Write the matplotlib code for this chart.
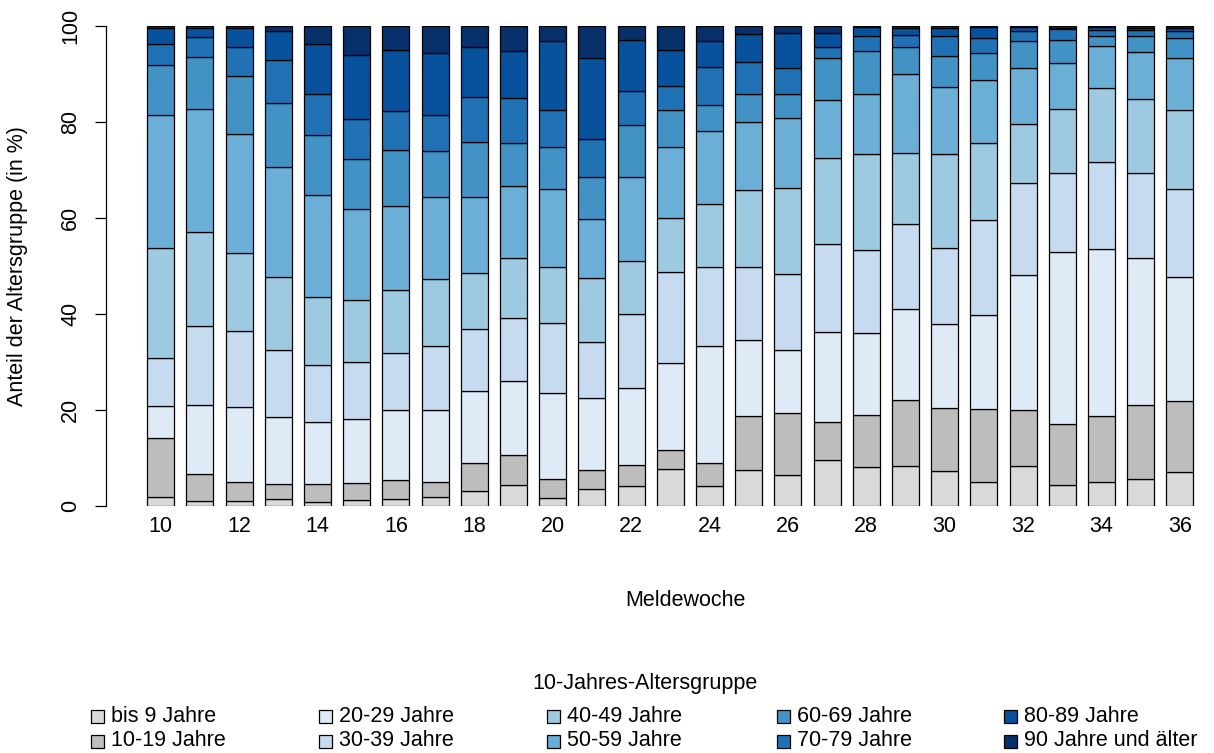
import numpy as np
import matplotlib
matplotlib.use('Agg')
import matplotlib.pyplot as plt
from matplotlib.patches import Rectangle

plt.rcParams['font.family'] = ['Liberation Sans', 'DejaVu Sans']

# Meldewochen
weeks = list(range(10, 37))

# Anteil je 10-Jahres-Altersgruppe (in %), pro Meldewoche
g_0_9 = [1.9, 1.1, 1.0, 1.4, 0.9, 1.3, 1.5, 1.9, 3.2, 4.4, 1.7, 3.5, 4.2, 7.8,
         4.2, 7.5, 6.5, 9.6, 8.1, 8.4, 7.3, 5.1, 8.3, 4.4, 4.9, 5.6, 7.0]
g_10_19 = [12.3, 5.5, 3.9, 3.2, 3.7, 3.5, 4.0, 3.2, 5.7, 6.2, 3.9, 4.0, 4.3, 3.9,
           4.8, 11.3, 12.9, 7.8, 10.9, 13.7, 13.2, 15.1, 11.8, 12.7, 13.8, 15.4, 14.8]
g_20_29 = [6.7, 14.4, 15.7, 13.9, 12.8, 13.3, 14.5, 15.0, 15.1, 15.5, 17.9, 14.9, 16.1, 18.0,
           24.3, 15.8, 13.0, 18.9, 17.0, 18.9, 17.4, 19.6, 28.0, 35.9, 34.8, 30.6, 25.9]
g_30_39 = [10.0, 16.6, 15.9, 13.9, 12.0, 12.0, 11.9, 13.3, 12.9, 13.1, 14.7, 11.7, 15.3, 19.1,
           16.4, 15.1, 16.0, 18.2, 17.4, 17.7, 15.8, 19.8, 19.2, 16.4, 18.2, 17.8, 18.3]
g_40_49 = [22.9, 19.5, 16.3, 15.3, 14.2, 12.9, 13.1, 13.8, 11.6, 12.5, 11.5, 13.3, 11.1, 11.3,
           13.3, 16.2, 17.9, 17.9, 19.9, 14.8, 19.6, 16.1, 12.3, 13.4, 15.3, 15.3, 16.6]
g_50_59 = [27.7, 25.7, 24.6, 22.9, 21.1, 18.9, 17.6, 17.2, 15.8, 14.9, 16.3, 12.3, 17.5, 14.6,
           15.1, 14.0, 14.6, 12.1, 12.5, 16.4, 13.9, 13.1, 11.6, 9.5, 8.8, 9.8, 10.7]
g_60_69 = [10.4, 10.8, 12.2, 13.4, 12.6, 10.4, 11.5, 9.5, 11.5, 9.1, 8.7, 8.8, 10.8, 7.8,
           5.5, 6.0, 4.9, 8.8, 8.9, 5.8, 6.5, 5.6, 5.6, 4.8, 2.2, 3.5, 4.1]
g_70_79 = [4.3, 4.2, 6.0, 8.9, 8.6, 8.3, 8.1, 7.6, 9.5, 9.3, 7.8, 8.0, 7.2, 5.1,
           7.9, 6.5, 5.4, 2.4, 3.3, 2.4, 4.3, 3.2, 2.2, 2.2, 1.1, 1.2, 1.6]
g_80_89 = [3.4, 1.7, 4.0, 6.1, 10.3, 13.3, 12.8, 12.9, 10.4, 9.7, 14.4, 16.8, 10.5, 7.3,
           5.4, 5.9, 7.3, 2.9, 1.8, 1.5, 1.5, 2.1, 0.8, 0.3, 0.6, 0.4, 0.6]
g_90 = [0.4, 0.5, 0.4, 1.0, 3.8, 6.1, 5.0, 5.6, 4.3, 5.3, 3.1, 6.7, 3.0, 5.1,
        3.1, 1.7, 1.5, 1.4, 0.2, 0.4, 0.5, 0.3, 0.2, 0.4, 0.3, 0.4, 0.4]

groups = [g_0_9, g_10_19, g_20_29, g_30_39, g_40_49,
          g_50_59, g_60_69, g_70_79, g_80_89, g_90]
labels = ['bis 9 Jahre', '10-19 Jahre', '20-29 Jahre', '30-39 Jahre', '40-49 Jahre',
          '50-59 Jahre', '60-69 Jahre', '70-79 Jahre', '80-89 Jahre', '90 Jahre und älter']
colors = ['#d9d9d9', '#bdbdbd', '#deebf7', '#c6dbef', '#9ecae1',
          '#6baed6', '#4292c6', '#2171b5', '#08519c', '#08306b']

fs = 15.5
W, H = 1214, 753
fig = plt.figure(figsize=(W / 100, H / 100), dpi=100)
ax = fig.add_axes([106 / W, (H - 506) / H, (W - 106) / W, 480 / H])

bottom = np.zeros(len(weeks))
for vals, col in zip(groups, colors):
    vals = np.array(vals)
    ax.bar(weeks, vals, width=0.69, bottom=bottom, color=col,
           edgecolor='black', linewidth=0.9)
    bottom += vals

ax.set_xlim(10 - 54.7 / 39.2, 10 + (W - 160.7) / 39.2)
ax.set_ylim(0, 100)
for s in ('top', 'right', 'bottom'):
    ax.spines[s].set_visible(False)
ax.spines['left'].set_linewidth(0.9)

ax.set_yticks([0, 20, 40, 60, 80, 100])
ax.set_yticklabels(['0', '20', '40', '60', '80', '100'], rotation=90, va='center')
ax.tick_params(axis='y', length=8, width=0.9, pad=10, labelsize=fs)
ax.set_xticks(weeks[::2])
ax.set_xticklabels([str(w) for w in weeks[::2]])
ax.tick_params(axis='x', length=0, pad=7, labelsize=fs)

fig.text(685 / W, 1 - 601 / H, 'Meldewoche', ha='center', va='center', fontsize=fs)
fig.text(18 / W, 1 - 266 / H, 'Anteil der Altersgruppe (in %)', ha='center', va='center',
         rotation=90, fontsize=fs)

# Legende
fig.text(645 / W, 1 - 683 / H, '10-Jahres-Altersgruppe', ha='center', va='center', fontsize=fs)
col_x = [97, 325, 553, 783, 1010]
row_y = [716, 741]
sq = 13
for i, (lab, col) in enumerate(zip(labels, colors)):
    cx = col_x[i // 2]
    cy = row_y[i % 2]
    fig.patches.append(Rectangle(((cx - sq / 2) / W, 1 - (cy + sq / 2) / H), sq / W, sq / H,
                                 transform=fig.transFigure, facecolor=col,
                                 edgecolor='black', linewidth=0.9))
    fig.text((cx + 14) / W, 1 - cy / H, lab, ha='left', va='center', fontsize=fs)

fig.savefig('out.png', dpi=100)
